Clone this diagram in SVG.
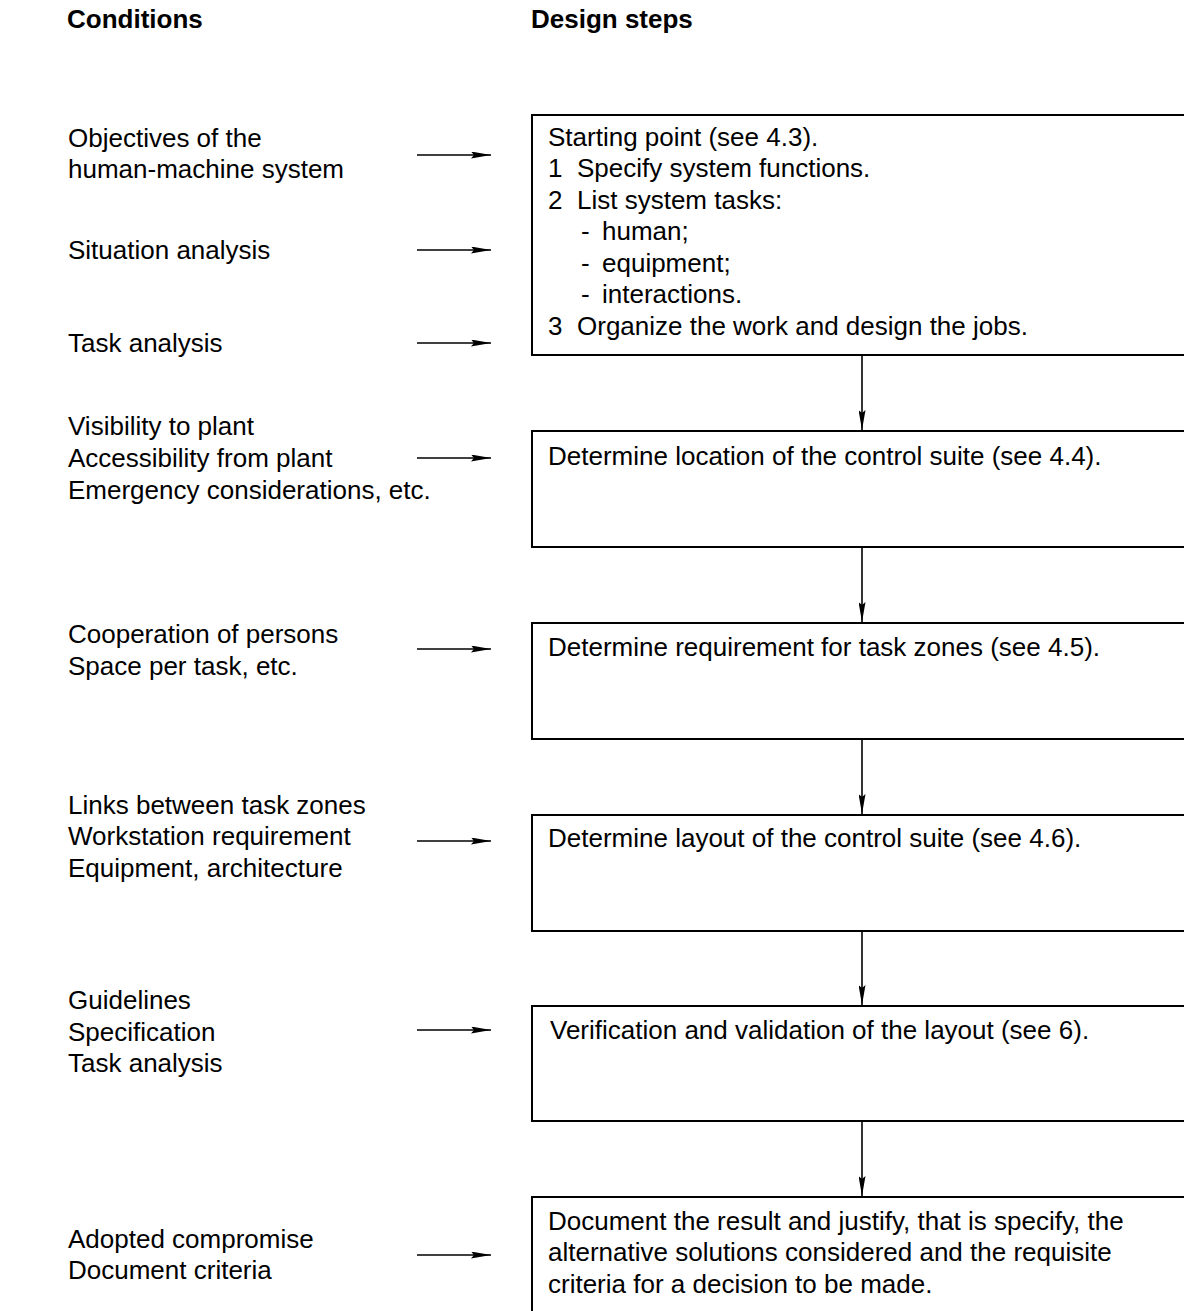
<svg xmlns="http://www.w3.org/2000/svg" width="1184" height="1311" viewBox="0 0 1184 1311">
<defs>
<style>
text{font-family:"Liberation Sans",Arial,sans-serif;font-size:26px;fill:#000}
.h{font-weight:bold;font-size:26px}
.box{fill:none;stroke:#000;stroke-width:2}
.ln{stroke:#000;stroke-width:1.6;fill:none}
</style>
<marker id="ah" viewBox="0 0 20 7" refX="20" refY="3.5" markerWidth="20" markerHeight="7" markerUnits="userSpaceOnUse" orient="auto">
<path d="M0,0 L20,3.5 L0,7 L3,3.5 Z" fill="#000"/>
</marker>
</defs>
<rect width="1184" height="1311" fill="#fff"/>
<g id="headers">
<text class="h" x="67" y="28">Conditions</text>
<text class="h" x="531" y="28">Design steps</text>
</g>
<g id="conditions">
<g id="c1"><text x="68" y="147">Objectives of the</text><text x="68" y="178">human-machine system</text></g>
<g id="c2"><text x="68" y="259">Situation analysis</text></g>
<g id="c3"><text x="68" y="352">Task analysis</text></g>
<g id="c4"><text x="68" y="435">Visibility to plant</text><text x="68" y="467">Accessibility from plant</text><text x="68" y="499">Emergency considerations, etc.</text></g>
<g id="c5"><text x="68" y="643">Cooperation of persons</text><text x="68" y="675">Space per task, etc.</text></g>
<g id="c6"><text x="68" y="814">Links between task zones</text><text x="68" y="845">Workstation requirement</text><text x="68" y="877">Equipment, architecture</text></g>
<g id="c7"><text x="68" y="1009">Guidelines</text><text x="68" y="1041">Specification</text><text x="68" y="1072">Task analysis</text></g>
<g id="c8"><text x="68" y="1248">Adopted compromise</text><text x="68" y="1279">Document criteria</text></g>
</g>
<g id="step1">
<rect class="box" x="532" y="115" width="700" height="240"/>
<text x="548" y="146">Starting point (see 4.3).</text>
<text y="177"><tspan x="548">1</tspan><tspan x="577">Specify system functions.</tspan></text>
<text y="209"><tspan x="548">2</tspan><tspan x="577">List system tasks:</tspan></text>
<text y="240"><tspan x="581">-</tspan><tspan x="602">human;</tspan></text>
<text y="272"><tspan x="581">-</tspan><tspan x="602">equipment;</tspan></text>
<text y="303"><tspan x="581">-</tspan><tspan x="602">interactions.</tspan></text>
<text y="335"><tspan x="548">3</tspan><tspan x="577">Organize the work and design the jobs.</tspan></text>
</g>
<g id="step2">
<rect class="box" x="532" y="431" width="700" height="116"/>
<text x="548" y="465">Determine location of the control suite (see 4.4).</text>
</g>
<g id="step3">
<rect class="box" x="532" y="623" width="700" height="116"/>
<text x="548" y="656">Determine requirement for task zones (see 4.5).</text>
</g>
<g id="step4">
<rect class="box" x="532" y="815" width="700" height="116"/>
<text x="548" y="847">Determine layout of the control suite (see 4.6).</text>
</g>
<g id="step5">
<rect class="box" x="532" y="1006" width="700" height="115"/>
<text x="550" y="1039">Verification and validation of the layout (see 6).</text>
</g>
<g id="step6">
<rect class="box" x="532" y="1197" width="700" height="200"/>
<text x="548" y="1230">Document the result and justify, that is specify, the</text>
<text x="548" y="1261">alternative solutions considered and the requisite</text>
<text x="548" y="1293">criteria for a decision to be made.</text>
</g>
<g id="connectors">
<line class="ln" x1="417" y1="155" x2="491" y2="155" marker-end="url(#ah)"/>
<line class="ln" x1="417" y1="250" x2="491" y2="250" marker-end="url(#ah)"/>
<line class="ln" x1="417" y1="343" x2="491" y2="343" marker-end="url(#ah)"/>
<line class="ln" x1="417" y1="458" x2="491" y2="458" marker-end="url(#ah)"/>
<line class="ln" x1="417" y1="649" x2="491" y2="649" marker-end="url(#ah)"/>
<line class="ln" x1="417" y1="841" x2="491" y2="841" marker-end="url(#ah)"/>
<line class="ln" x1="417" y1="1030" x2="491" y2="1030" marker-end="url(#ah)"/>
<line class="ln" x1="417" y1="1255" x2="491" y2="1255" marker-end="url(#ah)"/>
<line class="ln" x1="862" y1="355" x2="862" y2="430" marker-end="url(#ah)"/>
<line class="ln" x1="862" y1="547" x2="862" y2="622" marker-end="url(#ah)"/>
<line class="ln" x1="862" y1="739" x2="862" y2="814" marker-end="url(#ah)"/>
<line class="ln" x1="862" y1="931" x2="862" y2="1005" marker-end="url(#ah)"/>
<line class="ln" x1="862" y1="1121" x2="862" y2="1196" marker-end="url(#ah)"/>
</g>
</svg>
